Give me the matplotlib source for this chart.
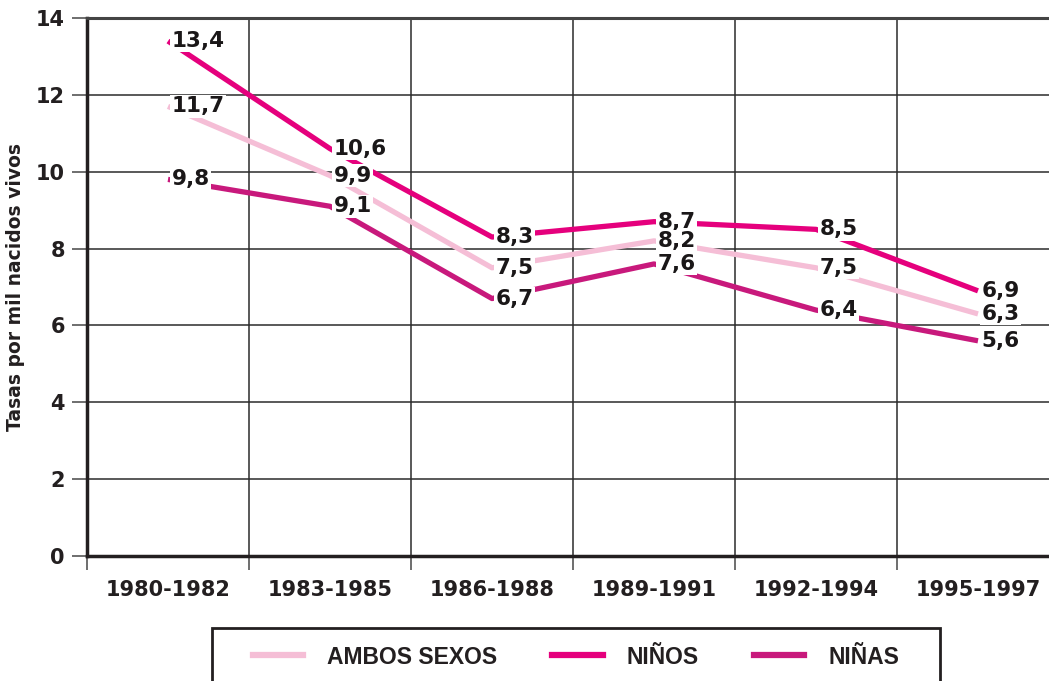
import matplotlib.pyplot as plt
from matplotlib.patches import Rectangle
from matplotlib.lines import Line2D

# Data
periodos = ['1980-1982', '1983-1985', '1986-1988', '1989-1991', '1992-1994', '1995-1997']
ambos = [11.7, 9.9, 7.5, 8.2, 7.5, 6.3]
ninos = [13.4, 10.6, 8.3, 8.7, 8.5, 6.9]
ninas = [9.8, 9.1, 6.7, 7.6, 6.4, 5.6]
series_names = ['AMBOS SEXOS', 'NIÑOS', 'NIÑAS']
colors = ['#F5BED6', '#E5007D', '#C8197C']

W, H = 1049, 681
fig = plt.figure(figsize=(W / 100, H / 100), dpi=100)

# axes extends a bit past the right edge like the original
left, right, top, bottom = 87, 1059, 18, 556
ax = fig.add_axes([left / W, 1 - bottom / H, (right - left) / W, (bottom - top) / H])

x = [i + 0.5 for i in range(len(periodos))]

for vals, c in zip([ambos, ninos, ninas], colors):
    ax.plot(x, vals, color=c, linewidth=3.8, solid_capstyle='butt', zorder=3)

# value labels with white boxes covering the lines
for vals in [ninos, ambos, ninas]:
    for xi, v in zip(x, vals):
        ax.annotate(f'{v:.1f}'.replace('.', ','), (xi, v), xytext=(2.5, 0),
                    textcoords='offset points', ha='left', va='center',
                    fontsize=15.5, fontweight='heavy', color='#1a1718',
                    bbox=dict(boxstyle='square,pad=0.06', fc='white', ec='none'),
                    zorder=5)

ax.set_xlim(0, 6)
ax.set_ylim(0, 14)

# y axis
ax.set_yticks(range(0, 15, 2))
ax.tick_params(axis='y', direction='out', length=11, width=1.2, color='#555555',
               pad=5, labelsize=15, labelcolor='#231F20')
for lab in ax.get_yticklabels():
    lab.set_fontweight('bold')

# x axis: boundary ticks + centred labels
ax.set_xticks(range(0, 7))
ax.set_xticklabels([])
ax.tick_params(axis='x', which='major', direction='out', length=10, width=1.2, color='#555555')
ax.set_xticks(x, minor=True)
ax.set_xticklabels(periodos, minor=True, fontsize=15, fontweight='bold', color='#231F20')
ax.tick_params(axis='x', which='minor', length=0, pad=17)

ax.grid(True, which='major', color='#2b2b2b', linewidth=1.1)
ax.set_axisbelow(True)

ax.spines['left'].set_linewidth(2.5)
ax.spines['left'].set_color('#231F20')
ax.spines['bottom'].set_linewidth(2.5)
ax.spines['bottom'].set_color('#231F20')
ax.spines['top'].set_linewidth(2.2)
ax.spines['top'].set_color('#444444')
ax.spines['right'].set_visible(False)

ax.set_ylabel('Tasas por mil nacidos vivos', fontsize=13.5, fontweight='bold',
              color='#231F20', labelpad=8)

# legend box at the bottom, running off the figure edge
fig.patches.append(Rectangle((212 / W, -0.05), (940 - 212) / W, 1 - 628 / H + 0.05,
                             transform=fig.transFigure, fill=False, ec='#231F20',
                             lw=2, zorder=1))
handles = [Line2D([], [], color=c, linewidth=4.5) for c in colors]
leg = fig.legend(handles, series_names, loc='center left',
                 bbox_to_anchor=(232 / W, 1 - 657 / H), ncol=3, frameon=False,
                 handlelength=2.2, handletextpad=1.05, columnspacing=2.4,
                 prop={'family': 'Liberation Sans', 'weight': 'bold', 'size': 16.5})
for t in leg.get_texts():
    t.set_color('#231F20')

fig.savefig('out.png', dpi=100)
